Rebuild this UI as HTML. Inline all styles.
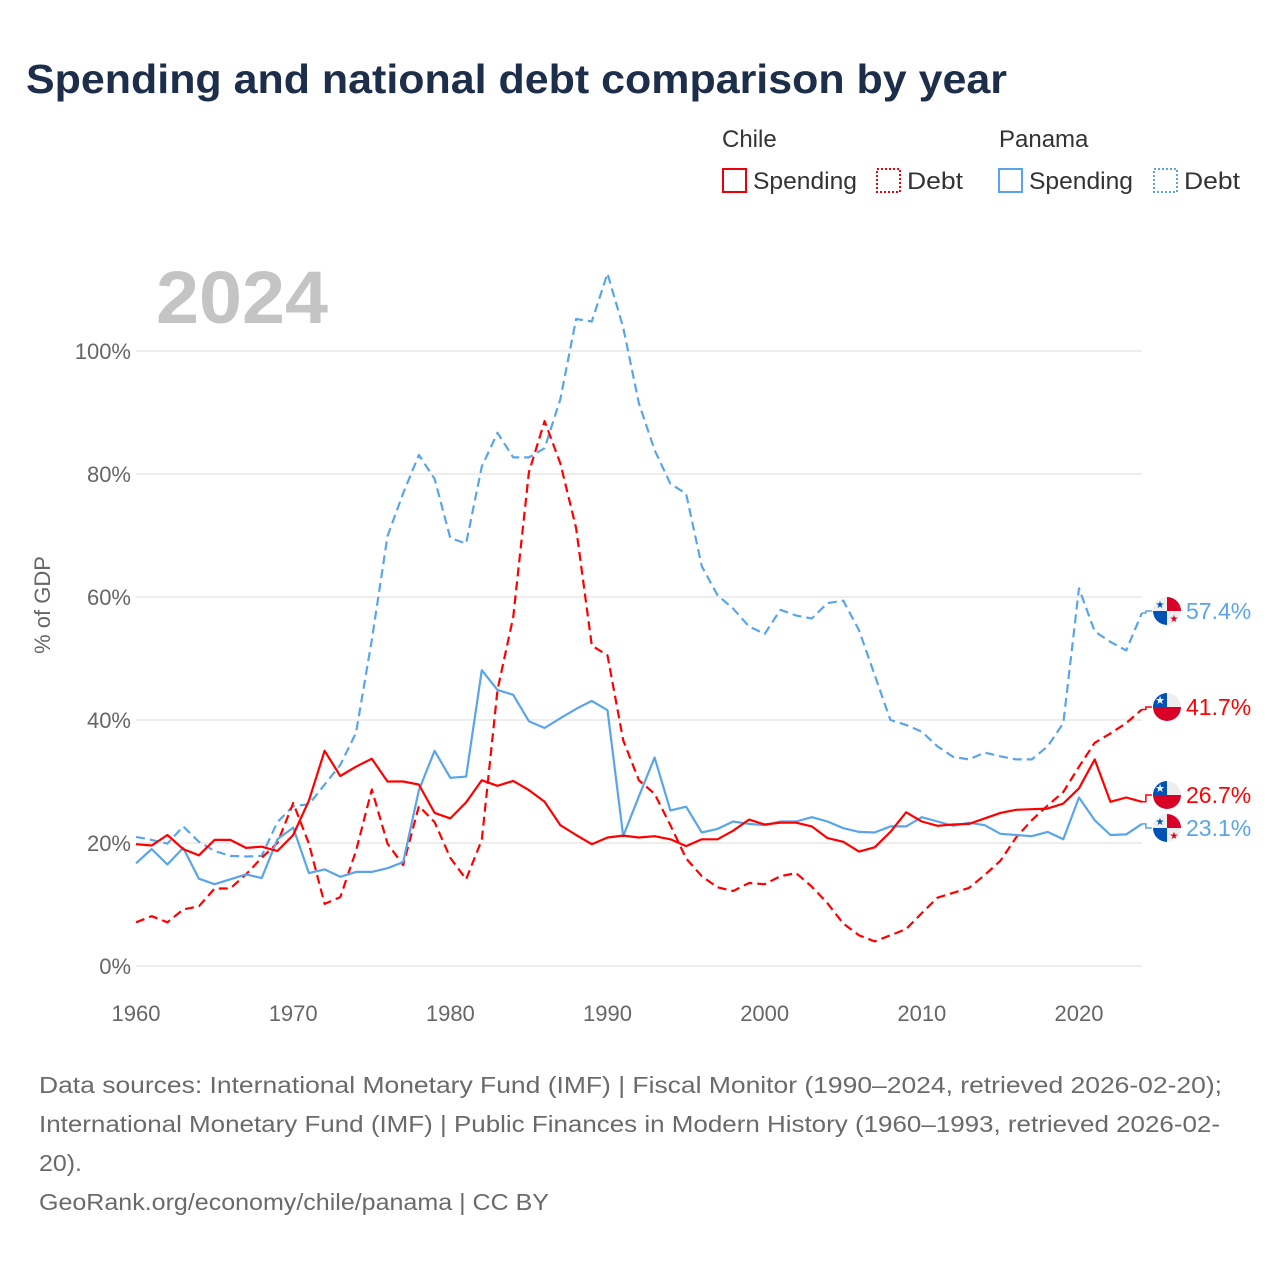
<!DOCTYPE html>
<html><head><meta charset="utf-8"><style>
body{margin:0;background:#fff;}
svg text{font-family:"Liberation Sans",sans-serif;}
</style></head><body>
<svg id="chart" width="1280" height="1280" viewBox="0 0 1280 1280" xmlns="http://www.w3.org/2000/svg">
<text x="26" y="93" font-size="41" font-weight="bold" fill="#1c2e4a" textLength="981" lengthAdjust="spacingAndGlyphs">Spending and national debt comparison by year</text>
<g font-size="24" fill="#333">
<text x="722" y="147" fill="#333">Chile</text>
<text x="999" y="147" fill="#333">Panama</text>
<g><rect x="723" y="169" width="23" height="23" fill="none" stroke="#e8000b" stroke-width="2"/><text x="753" y="189" textLength="104" lengthAdjust="spacingAndGlyphs">Spending</text></g>
<g><rect x="877" y="169" width="23" height="23" fill="none" stroke="#e8000b" stroke-width="2" stroke-dasharray="2,2"/><text x="907" y="189" textLength="56" lengthAdjust="spacingAndGlyphs">Debt</text></g>
<g><rect x="999" y="169" width="23" height="23" fill="none" stroke="#5aa5ea" stroke-width="2"/><text x="1029" y="189" textLength="104" lengthAdjust="spacingAndGlyphs">Spending</text></g>
<g><rect x="1154" y="169" width="23" height="23" fill="none" stroke="#5aa5ea" stroke-width="2" stroke-dasharray="2,2"/><text x="1184" y="189" textLength="56" lengthAdjust="spacingAndGlyphs">Debt</text></g>
</g>
<text x="156" y="323" font-size="74" font-weight="bold" fill="#c4c4c4" textLength="172" lengthAdjust="spacingAndGlyphs">2024</text>
<text transform="translate(50,605) rotate(-90)" text-anchor="middle" font-size="22" fill="#666">% of GDP</text>
<g id="grid"></g><g id="series"></g><g id="labels"></g>
<g font-size="23" fill="#6a6a6a">
<text x="39" y="1093" textLength="1183" lengthAdjust="spacingAndGlyphs">Data sources: International Monetary Fund (IMF) | Fiscal Monitor (1990–2024, retrieved 2026-02-20);</text>
<text x="39" y="1132" textLength="1181" lengthAdjust="spacingAndGlyphs">International Monetary Fund (IMF) | Public Finances in Modern History (1960–1993, retrieved 2026-02-</text>
<text x="39" y="1171" textLength="43" lengthAdjust="spacingAndGlyphs">20).</text>
<text x="39" y="1210" textLength="510" lengthAdjust="spacingAndGlyphs">GeoRank.org/economy/chile/panama | CC BY</text>
</g>
</svg>
<script>
const startYear = 1960;
const yTicks = [0,20,40,60,80,100];
const xTicks = [1960,1970,1980,1990,2000,2010,2020];
const chileSpending = [19.8,19.6,21.3,19,18,20.5,20.5,19.2,19.4,18.7,21.3,26.9,35,30.9,32.4,33.7,30,30,29.5,24.9,24,26.6,30.2,29.3,30.1,28.6,26.7,22.9,21.3,19.8,20.9,21.2,20.9,21.1,20.6,19.5,20.6,20.6,22,23.8,23,23.3,23.3,22.7,20.8,20.2,18.6,19.3,21.8,25,23.5,22.8,23,23.1,24,24.9,25.4,25.5,25.6,26.4,28.9,33.6,26.7,27.4,26.7];
const chileDebt = [7.1,8.1,7.1,9.2,9.7,12.6,12.6,14.9,17.6,20,26.5,19.9,10.1,11.2,18.7,28.7,19.9,16.4,26,23.4,17.6,14.1,20.5,44.9,56.7,80.3,88.6,81.7,71.2,52.1,50.5,36.7,30.2,28,22.9,17.5,14.6,12.8,12.2,13.5,13.3,14.6,15.1,12.9,10.2,6.9,5,4,5,6,8.6,11.1,11.9,12.7,14.8,17.1,20.9,23.7,26.1,28.3,32.4,36.3,37.8,39.5,41.7];
const panamaSpending = [16.7,19,16.5,19.2,14.2,13.3,14.1,14.9,14.3,20.6,22.5,15.1,15.7,14.5,15.3,15.3,15.9,16.9,28.6,35,30.6,30.8,48.1,44.9,44.1,39.8,38.7,40.3,41.8,43.1,41.6,21.1,27.6,33.9,25.3,25.9,21.7,22.3,23.5,23.1,22.9,23.5,23.5,24.2,23.5,22.4,21.8,21.7,22.7,22.7,24.2,23.5,22.8,23.3,22.9,21.5,21.3,21.1,21.8,20.6,27.4,23.7,21.3,21.4,23.1];
const panamaDebt = [21,20.5,19.9,22.7,20.2,18.7,17.9,17.8,17.9,23.4,26,26.3,29.5,32.7,37.9,53,69.9,76.9,83.1,79.2,69.6,68.7,81.2,86.7,82.7,82.7,84.2,92.2,105.2,104.8,112.6,103.8,91.5,83.9,78.4,76.8,65,60.3,58.1,55.2,54,57.9,57,56.5,59,59.4,54.6,47.3,40,39.2,38.1,35.7,34,33.6,34.7,34.1,33.6,33.6,35.7,39.5,61.4,54.4,52.7,51.3,57.4];

const NS='http://www.w3.org/2000/svg';
const X0=136, X1=1142, Y0=966, PXPCT=6.15;
const xs = yr => X0 + (yr-1960)*(1079-136)/60;
const ys = v => Y0 - v*PXPCT;
function mk(tag, attrs, parent){const e=document.createElementNS(NS,tag);for(const k in attrs)e.setAttribute(k,attrs[k]);parent.appendChild(e);return e;}
const grid=document.getElementById('grid');
yTicks.forEach(t=>{
  const l=mk('line',{x1:X0,x2:X1,y1:ys(t),y2:ys(t),stroke:'#e8e8e8','stroke-width':1.5},grid);
  
  
  const tx=mk('text',{x:131,y:ys(t)+8,'text-anchor':'end','font-size':22,fill:'#666'},grid);
  tx.textContent=t+'%';
  
  
});
xTicks.forEach(t=>{
  const tx=mk('text',{x:xs(t),y:1021,'text-anchor':'middle','font-size':22,fill:'#666'},grid);
  tx.textContent=t;
  
  
});
const ser=document.getElementById('series');
const defs=[[panamaDebt,'#5aa5ea','9,5','panama-debt-line'],[chileDebt,'#f00','9,5','chile-debt-line'],[panamaSpending,'#5aa5ea','','panama-spending-line'],[chileSpending,'#f00','','chile-spending-line']];
defs.forEach(([d,c,da,n])=>{
  const pts=d.map((v,i)=>xs(startYear+i).toFixed(1)+','+ys(v).toFixed(1)).join(' ');
  const p=mk('polyline',{points:pts,fill:'none',stroke:c,'stroke-width':2.2,'stroke-linejoin':'round'},ser);
  if(da)p.setAttribute('stroke-dasharray',da);
  
  
});
const lab=document.getElementById('labels');
const endLabels=[[panamaDebt,'#5aa5ea',611,'panama','panama-debt-label'],[chileDebt,'#f00',707,'chile','chile-debt-label'],[chileSpending,'#f00',795,'chile','chile-spending-label'],[panamaSpending,'#5aa5ea',828,'panama','panama-spending-label']];
endLabels.forEach(([d,c,ly,flag,n])=>{
  const v=d[d.length-1], x=xs(startYear+d.length-1), y=ys(v);
  const g=mk('g',{},lab);
  
  
  mk('polyline',{points:`${x},${y} ${x+4},${y} ${x+4},${ly} ${x+10},${ly}`,fill:'none',stroke:c,'stroke-width':1.5},g);
  const cx=1167, r=14;
  const cp='cp'+n; const clip=mk('clipPath',{id:cp},g); mk('circle',{cx:cx,cy:ly,r:r},clip);
  const fg=mk('g',{'clip-path':`url(#${cp})`},g);
  if(flag==='chile'){
    mk('rect',{x:cx-r,y:ly-r,width:2*r,height:2*r,fill:'#eee'},fg);
    mk('rect',{x:cx-r,y:ly,width:2*r,height:r,fill:'#d80027'},fg);
    mk('rect',{x:cx-r,y:ly-r,width:r,height:r,fill:'#0052b4'},fg);
    const s=mk('text',{x:cx-r/2,y:ly-3,'text-anchor':'middle','font-size':11,fill:'#fff'},fg);s.textContent='★';
  } else {
    mk('rect',{x:cx-r,y:ly-r,width:2*r,height:2*r,fill:'#eee'},fg);
    mk('rect',{x:cx,y:ly-r,width:r,height:r,fill:'#d80027'},fg);
    mk('rect',{x:cx-r,y:ly,width:r,height:r,fill:'#0052b4'},fg);
    const s1=mk('text',{x:cx-r/2,y:ly-3,'text-anchor':'middle','font-size':10,fill:'#0052b4'},fg);s1.textContent='★';
    const s2=mk('text',{x:cx+r/2,y:ly+11,'text-anchor':'middle','font-size':10,fill:'#d80027'},fg);s2.textContent='★';
  }
  const t=mk('text',{x:1186,y:ly+8,'font-size':23,fill:c},g);
  t.textContent=v.toFixed(1)+'%';
});
</script>
</body></html>
